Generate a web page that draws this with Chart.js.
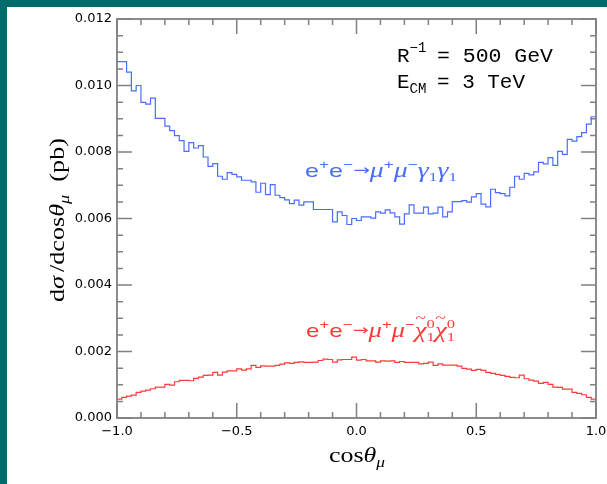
<!DOCTYPE html>
<html>
<head>
<meta charset="utf-8">
<script src="https://cdn.jsdelivr.net/npm/chart.js@4.4.1/dist/chart.umd.min.js"></script>
<style>
  html, body { margin: 0; padding: 0; width: 607px; height: 484px; overflow: hidden; background: #006b6b; }
  #wrap { position: absolute; left: 7px; top: 7px; width: 600px; height: 477px; background: #fff; }
  canvas { display: block; }
</style>
</head>
<body>
<div id="wrap"><canvas id="chart" width="600" height="477"></canvas></div>
<script>
// histogram: 100 bins in cos(theta_mu) from -1 to 1
const COS_MIN = -1;
const COS_MAX = 1;
const BIN_COUNT = 100;

// e+e- -> mu+mu- gamma1 gamma1 (pb per unit cos)
const photonPairValues = [
  0.01072, 0.01072, 0.01040, 0.00984, 0.01000, 0.00949, 0.00944, 0.00962, 0.00901, 0.00901,
  0.00878, 0.00864, 0.00849, 0.00834, 0.00802, 0.00828, 0.00812, 0.00819, 0.00785, 0.00757,
  0.00765, 0.00727, 0.00718, 0.00738, 0.00733, 0.00725, 0.00715, 0.00715, 0.00710, 0.00679,
  0.00706, 0.00672, 0.00702, 0.00670, 0.00663, 0.00656, 0.00645, 0.00655, 0.00640, 0.00650,
  0.00650, 0.00627, 0.00627, 0.00627, 0.00627, 0.00590, 0.00620, 0.00609, 0.00582, 0.00600,
  0.00594, 0.00605, 0.00605, 0.00601, 0.00620, 0.00616, 0.00626, 0.00617, 0.00605, 0.00583,
  0.00614, 0.00641, 0.00616, 0.00616, 0.00634, 0.00614, 0.00616, 0.00634, 0.00605, 0.00620,
  0.00651, 0.00651, 0.00654, 0.00649, 0.00665, 0.00675, 0.00643, 0.00635, 0.00688, 0.00678,
  0.00675, 0.00668, 0.00694, 0.00727, 0.00718, 0.00736, 0.00731, 0.00740, 0.00769, 0.00764,
  0.00783, 0.00760, 0.00802, 0.00793, 0.00838, 0.00833, 0.00846, 0.00858, 0.00884, 0.00906,
];

// e+e- -> mu+mu- chi1 chi1
const neutralinoPairValues = [
  0.00057, 0.00062, 0.00066, 0.00069, 0.00077, 0.00081, 0.00084, 0.00088, 0.00093, 0.00093,
  0.00101, 0.00099, 0.00109, 0.00113, 0.00113, 0.00112, 0.00119, 0.00123, 0.00128, 0.00129,
  0.00137, 0.00129, 0.00138, 0.00142, 0.00142, 0.00148, 0.00144, 0.00148, 0.00158, 0.00152,
  0.00157, 0.00156, 0.00156, 0.00158, 0.00162, 0.00166, 0.00164, 0.00167, 0.00169, 0.00167,
  0.00167, 0.00168, 0.00173, 0.00177, 0.00176, 0.00168, 0.00175, 0.00176, 0.00176, 0.00183,
  0.00174, 0.00176, 0.00172, 0.00172, 0.00168, 0.00172, 0.00171, 0.00172, 0.00167, 0.00170,
  0.00167, 0.00167, 0.00167, 0.00163, 0.00164, 0.00168, 0.00158, 0.00163, 0.00159, 0.00159,
  0.00159, 0.00156, 0.00149, 0.00147, 0.00143, 0.00146, 0.00143, 0.00137, 0.00134, 0.00131,
  0.00128, 0.00125, 0.00122, 0.00121, 0.00129, 0.00118, 0.00114, 0.00111, 0.00104, 0.00107,
  0.00101, 0.00093, 0.00092, 0.00087, 0.00087, 0.00077, 0.00074, 0.00070, 0.00062, 0.00057,
];

const X_MAJOR = 0.5, X_MINOR = 0.1;
const Y_MIN = 0, Y_MAX = 0.012, Y_MAJOR = 0.002, Y_MINOR = 0.0005;

const BLUE = "#4a6cff";
const RED = "#ff3a3a";
const AXIS = "#808080";

const SANS = '"Liberation Sans", Arial, sans-serif';
const SERIF = '"Liberation Serif", "Times New Roman", serif';
const MONO = '"Liberation Mono", "Courier New", monospace';

function binEdge(k) {
  return COS_MIN + (k * (COS_MAX - COS_MIN)) / BIN_COUNT;
}

// left edge of each bin + closing point at the right end
function histPoints(values) {
  const pts = values.map((v, k) => ({ x: binEdge(k), y: v }));
  pts.push({ x: COS_MAX, y: values[values.length - 1] });
  return pts;
}

function fmtX(v) {
  const s = Math.abs(v).toFixed(1);
  return v < 0 ? "\u2212" + s : s;
}

// draw a run of text pieces (sup/sub etc), stretched to a target width
function drawRuns(ctx, runs, x, y, width, color) {
  ctx.save();
  ctx.fillStyle = color;
  ctx.textBaseline = "alphabetic";
  ctx.textAlign = "left";
  let natural = 0;
  let pen = 0;
  const placed = [];
  let prev = null;
  runs.forEach((r) => {
    ctx.font = r.f;
    const w = ctx.measureText(r.t).width;
    if (r.over && prev) {
      placed.push({ r, x: prev.x + (prev.w - w) / 2 });
      return;
    }
    placed.push({ r, x: pen });
    prev = { x: pen, w };
    if (!r.keep) pen += w + (r.gap || 0);
    natural = Math.max(natural, pen);
  });
  const sx = width ? width / natural : 1;
  ctx.translate(x, y);
  ctx.scale(sx, 1);
  placed.forEach((p) => {
    ctx.font = p.r.f;
    ctx.fillText(p.r.t, p.x, p.r.dy || 0);
  });
  ctx.restore();
}

const supS = (t) => ({ t, f: `13px ${SANS}`, dy: -8 });
const subN = (t) => ({ t, f: `13px ${SERIF}`, dy: 4 });
const greek = (t) => ({ t, f: `italic 21px ${SERIF}` });

const photonLabel = [
  { t: "e", f: `19px ${SANS}` }, supS("+"),
  { t: "e", f: `19px ${SANS}` }, supS("\u2212"),
  { t: "\u2192", f: `15px "DejaVu Sans"`, dy: -2 },
  greek("\u03bc"), supS("+"), greek("\u03bc"), supS("\u2212"),
  greek("\u03b3"), subN("1"), greek("\u03b3"), subN("1"),
];

const neutralinoLabel = [
  { t: "e", f: `19px ${SANS}` }, supS("+"),
  { t: "e", f: `19px ${SANS}` }, supS("\u2212"),
  { t: "\u2192", f: `15px "DejaVu Sans"`, dy: -2 },
  greek("\u03bc"), supS("+"), greek("\u03bc"), supS("\u2212"),
  greek("\u03c7"), { t: "~", f: `15px ${SERIF}`, dy: -14, over: true },
  { t: "0", f: `13px ${SERIF}`, dy: -9, keep: true }, subN("1"),
  greek("\u03c7"), { t: "~", f: `15px ${SERIF}`, dy: -14, over: true },
  { t: "0", f: `13px ${SERIF}`, dy: -9, keep: true }, subN("1"),
];

const yTitle = [
  { t: "d", f: `20px ${SERIF}` }, { t: "\u03c3", f: `italic 20px ${SERIF}`, gap: 3 },
  { t: "/dcos", f: `20px ${SERIF}` }, { t: "\u03b8", f: `italic 20px ${SERIF}` },
  { t: "\u03bc", f: `italic 14px ${SERIF}`, dy: 5, gap: 10 },
  { t: "(pb)", f: `20px ${SERIF}` },
];

const xTitle = [
  { t: "cos", f: `21px ${SERIF}` }, { t: "\u03b8", f: `italic 21px ${SERIF}` },
  { t: "\u03bc", f: `italic 14px ${SERIF}`, dy: 5 },
];

const frameTicks = {
  id: "frameTicks",
  afterDatasetsDraw(chart) {
    const { ctx, chartArea: a, scales } = chart;
    const xs = scales.x, ys = scales.y;
    ctx.save();
    ctx.strokeStyle = AXIS;
    ctx.lineWidth = 1.5;
    ctx.beginPath();
    const nx = Math.round((COS_MAX - COS_MIN) / X_MINOR);
    for (let i = 0; i <= nx; i++) {
      const v = COS_MIN + i * X_MINOR;
      const px = xs.getPixelForValue(v);
      const len = i % Math.round(X_MAJOR / X_MINOR) === 0 ? 15 : 6;
      ctx.moveTo(px, a.bottom); ctx.lineTo(px, a.bottom - len);
      ctx.moveTo(px, a.top); ctx.lineTo(px, a.top + len);
    }
    const ny = Math.round((Y_MAX - Y_MIN) / Y_MINOR);
    for (let i = 0; i <= ny; i++) {
      const v = Y_MIN + i * Y_MINOR;
      const py = ys.getPixelForValue(v);
      const len = i % Math.round(Y_MAJOR / Y_MINOR) === 0 ? 15 : 6;
      ctx.moveTo(a.left, py); ctx.lineTo(a.left + len, py);
      ctx.moveTo(a.right, py); ctx.lineTo(a.right - len, py);
    }
    ctx.stroke();
    ctx.lineWidth = 1.8;
    ctx.strokeRect(a.left, a.top, a.right - a.left, a.bottom - a.top);
    ctx.restore();
  },
};

const textLabels = {
  id: "textLabels",
  afterDraw(chart) {
    const ctx = chart.ctx;
    // parameters box, top right
    drawRuns(ctx, [{ t: "R", f: `21px ${MONO}` }, { t: "\u22121", f: `14px ${MONO}`, dy: -10 }], 390, 55, 0, "#000");
    drawRuns(ctx, [{ t: "= 500 GeV", f: `20px ${MONO}` }], 430, 55, 116, "#000");
    drawRuns(ctx, [{ t: "E", f: `21px ${MONO}` }, { t: "CM", f: `14px ${MONO}`, dy: 5 }], 390, 81, 0, "#000");
    drawRuns(ctx, [{ t: "= 3 TeV", f: `20px ${MONO}` }], 430, 81, 88, "#000");

    drawRuns(ctx, photonLabel, 298, 170, 152, BLUE);
    drawRuns(ctx, neutralinoLabel, 299, 330, 149, RED);

    drawRuns(ctx, xTitle, 322, 455, 56, "#000");

    ctx.save();
    ctx.translate(57, 295);
    ctx.rotate(-Math.PI / 2);
    drawRuns(ctx, yTitle, 0, 0, 164, "#000");
    ctx.restore();
  },
};

const tickFont = { family: '"DejaVu Sans", sans-serif', size: 13 };

new Chart(document.getElementById("chart"), {
  type: "line",
  data: {
    datasets: [
      {
        label: "e+e- -> mu+mu- gamma1 gamma1",
        data: histPoints(photonPairValues),
        borderColor: BLUE,
        borderWidth: 1.2,
        stepped: true,
        pointRadius: 0,
        fill: false,
      },
      {
        label: "e+e- -> mu+mu- chi1 chi1",
        data: histPoints(neutralinoPairValues),
        borderColor: RED,
        borderWidth: 1.2,
        stepped: true,
        pointRadius: 0,
        fill: false,
      },
    ],
  },
  options: {
    responsive: false,
    animation: false,
    layout: { padding: { top: 12, right: 11, left: 0, bottom: 0 } },
    plugins: { legend: { display: false }, tooltip: { enabled: false } },
    scales: {
      x: {
        type: "linear",
        min: COS_MIN,
        max: COS_MAX,
        grid: { display: false, drawTicks: false },
        border: { display: false },
        ticks: { stepSize: X_MAJOR, padding: 6, color: "#000", font: tickFont, maxRotation: 0, autoSkip: false, callback: fmtX },
        afterFit(s) { s.height = 66; s.paddingLeft = 0; s.paddingRight = 0; },
      },
      y: {
        min: Y_MIN,
        max: Y_MAX,
        grid: { display: false, drawTicks: false },
        border: { display: false },
        ticks: { stepSize: Y_MAJOR, padding: 5, color: "#000", font: tickFont, callback: (v) => v.toFixed(3) },
        afterFit(s) { s.width = 110; s.paddingTop = 0; s.paddingBottom = 0; },
      },
    },
  },
  plugins: [frameTicks, textLabels],
});
</script>
</body>
</html>
